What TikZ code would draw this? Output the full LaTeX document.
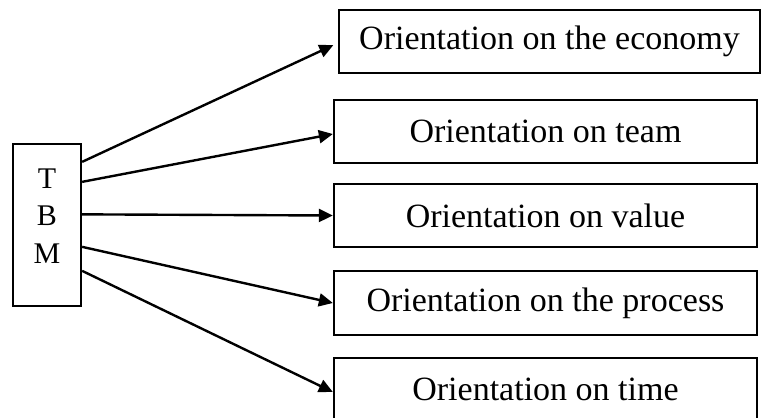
\documentclass[tikz,border=0pt]{standalone}
\usepackage{fontspec}
\setmainfont{Liberation Serif}
\usetikzlibrary{arrows.meta}

\tikzset{
  orient/.style={draw, line width=2.3pt, minimum width=423pt, minimum height=63pt,
    inner sep=0pt, font=\fontsize{34}{39}\selectfont},
  link/.style={line width=2.4pt, -{Triangle[length=14pt,width=13pt]}},
  tbmbox/.style={draw, line width=2.3pt, minimum width=68pt, minimum height=162pt,
    inner sep=0pt}
}

\begin{document}
\begin{tikzpicture}[x=1pt,y=-1pt]
  \useasboundingbox (0,0) rectangle (761,418);
  \clip (0,0) rectangle (761,418);

  % source block
  \node[tbmbox] (tbm) at (47,225) {};
  \node[align=center, font=\fontsize{30}{37.5}\selectfont] (letters) at (47,216) {T\\B\\M};

  % target blocks
  \node[orient, minimum width=421pt] (eco) at (549.5,41.5) {Orientation on the economy};
  \node[orient] (team) at (545.5,131.5) {Orientation on team};
  \node[orient] (val) at (545.5,215.5) {Orientation on value};
  \node[orient, minimum height=64pt] (proc) at (545.5,303) {Orientation on the process};
  \node[orient] (time) at (545.5,389.5) {Orientation on time};

  % start points on the right side of the source block
  \coordinate (s1) at ([yshift=-19pt]tbm.north east);
  \coordinate (s2) at ([yshift=-39pt]tbm.north east);
  \coordinate (s3) at ([yshift=-71.5pt]tbm.north east);
  \coordinate (s4) at ([yshift=-104pt]tbm.north east);
  \coordinate (s5) at ([yshift=-128pt]tbm.north east);

  \draw[link, shorten >=5pt] (s1) -- ([yshift=-1.5pt]eco.west);
  \draw[link] (s2) -- ([yshift=-2.5pt]team.west);
  \draw[link] (s3) -- (val.west);
  \draw[link] (s4) -- (proc.west);
  \draw[link] (s5) -- ([yshift=-2.5pt]time.west);
\end{tikzpicture}
\end{document}
